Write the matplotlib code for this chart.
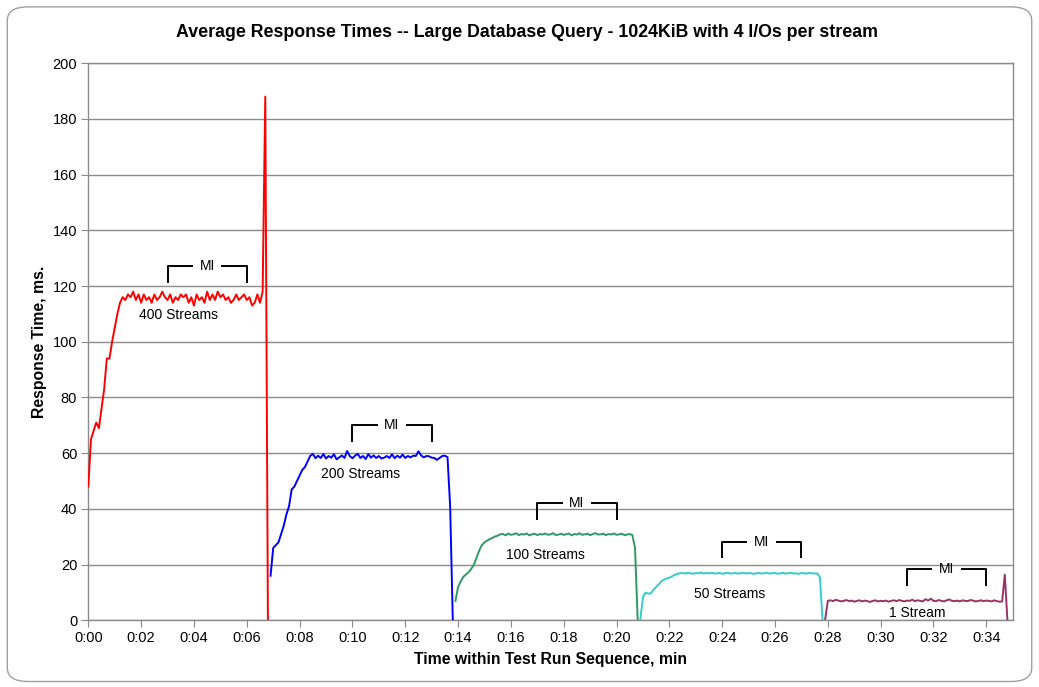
import numpy as np
import matplotlib
matplotlib.use("Agg")
import matplotlib.pyplot as plt
from matplotlib.patches import FancyBboxPatch

plt.rcParams["font.family"] = ["Liberation Sans", "DejaVu Sans"]

# Sampling step of each run (minutes) and start time of each phase
STEP = 0.1
starts = [0.0, 6.9, 13.9, 20.9, 27.9]

# Response times (ms), one list per phase
red_400 = [48, 65, 68, 71, 69, 76, 83, 94, 94, 100,
           105, 110, 114, 116, 115, 117, 116, 118, 115, 117,
           114, 117, 115, 116, 114, 117, 115, 116, 118, 116,
           115, 117, 114, 116, 115, 117, 116, 117, 114, 116,
           113, 117, 115, 116, 114, 118, 115, 117, 115, 118,
           116, 117, 115, 116, 114, 115, 117, 115, 116, 117,
           115, 116, 113, 114, 117, 114, 118, 188, 0]

blue_200 = [16, 26, 27, 28, 31, 34, 38, 41, 47, 48,
            50, 52, 54, 55, 57, 59, 59.8, 58.2, 59.1, 58.3,
            59.7, 58.1, 59.0, 58.4, 59.6, 57.8, 58.5, 59.2, 58.3, 60.8,
            59.0, 58.2, 59.1, 59.8, 58.3, 59.0, 57.9, 59.7, 58.4, 59.2,
            58.3, 59.0, 58.1, 58.4, 59.0, 58.3, 59.6, 58.2, 59.1, 58.4,
            59.5, 58.3, 59.0, 58.5, 59.1, 59.0, 60.7, 59.2, 58.5, 59.0,
            58.9, 58.4, 58.3, 57.6, 58.3, 59.0, 59.1, 58.6, 41, 0]

green_100 = [7, 12, 14, 15.6, 16.5, 17.3, 18.5, 20, 22.5, 25,
             27, 28, 28.6, 29.2, 29.6, 30.1, 30.4, 30.9, 31.0,
             30.5, 31.2, 30.7, 30.9, 31.3, 30.6, 31.0, 30.8, 31.2, 30.5,
             30.9, 31.1, 30.6, 31.0, 30.8, 31.2, 30.7, 30.9, 31.3, 30.6,
             30.8, 31.1, 30.7, 30.9, 31.2, 30.5, 31.0, 30.8, 31.3, 30.7,
             30.9, 31.1, 30.6, 31.0, 31.3, 30.8, 30.9, 31.1, 30.6, 31.0,
             30.8, 31.2, 30.7, 30.9, 31.1, 30.6, 30.8, 31.0, 30.6,
             26, 0]

cyan_50 = [0.3, 8.3, 10, 9.6, 9.7, 11, 12, 13, 14, 14.6,
           15, 15.3, 15.8, 16.3, 16.7,
           16.9, 17.0, 16.8, 17.1, 16.9, 16.7, 17.0, 16.9, 17.2, 16.8,
           17.0, 16.9, 17.1, 16.8, 16.9, 17.0, 16.7, 16.9, 17.1, 16.8,
           16.9, 17.0, 16.8, 16.9, 17.1, 16.8, 17.0, 16.9, 16.7, 16.9,
           17.0, 16.8, 16.9, 17.1, 16.8, 16.9, 17.0, 16.7, 16.9, 17.0,
           16.8, 16.9, 17.1, 16.8, 16.9, 16.7, 17.0, 16.9, 16.8, 17.0,
           16.9, 16.8, 16.9,
           15.5, 0]

purple_1 = [0.5, 7.0,
            7.2, 6.9, 7.4, 7.1, 6.8, 7.0, 7.3, 6.9, 7.1, 6.7,
            7.0, 7.2, 6.8, 7.1, 6.9, 6.6, 7.0, 7.2, 6.8, 7.0,
            6.9, 7.1, 6.7, 7.0, 7.2, 6.9, 7.3, 7.0, 6.8, 7.1,
            7.0, 7.4, 6.9, 7.2, 7.0, 6.8, 7.6, 7.1, 7.8, 7.0,
            6.9, 7.3, 7.0, 6.8, 7.2, 7.5, 7.0, 6.9, 7.1, 6.8,
            7.2, 7.0, 6.9, 7.3, 7.1, 6.8, 7.0, 7.2, 6.9, 7.1,
            7.0, 6.8, 7.2, 6.9, 6.7, 6.8,
            16.4, 0]

series = [red_400, blue_200, green_100, cyan_50, purple_1]
colors = ["#ff0000", "#0000ff", "#2e9a66", "#33cccc", "#993366"]

# Stream labels and the "MI" (measurement interval) brackets
labels = ["400 Streams", "200 Streams", "100 Streams", "50 Streams", "1 Stream"]
label_x = [3.4, 10.3, 17.3, 24.3, 31.4]
label_y = [109.5, 52.5, 23.5, 9.5, 2.8]
mi_start = [3, 10, 17, 24, 31]
mi_end = [6, 13, 20, 27, 34]
mi_top = [127.2, 70.2, 42.0, 28.3, 18.5]

fig = plt.figure(figsize=(10.39, 6.87), dpi=100)
ax = fig.add_axes([0.085, 0.097, 0.8897, 0.811])

for debut, valeurs, couleur in zip(starts, series, colors):
    temps = debut + STEP * np.arange(len(valeurs))
    ax.plot(temps, valeurs, color=couleur, lw=1.4, zorder=3)

for nom, x, y in zip(labels, label_x, label_y):
    ax.text(x, y, nom, ha="center", va="center", fontsize=10, zorder=4)

for a, b, haut in zip(mi_start, mi_end, mi_top):
    bas = haut - 5.7
    milieu = (a + b) / 2
    ax.plot([a, a, milieu - 0.58], [bas, haut, haut], color="black", lw=1.4)
    ax.plot([milieu + 0.58, b, b], [haut, haut, bas], color="black", lw=1.4)
    ax.text(milieu, haut, "MI", ha="center", va="center", fontsize=10)

grille = "#8a8a8a"
ax.set_xlim(0, 35)
ax.set_ylim(0, 200)
ax.set_yticks(range(0, 201, 20))
ax.set_xticks(range(0, 35, 2))
ax.set_xticklabels(["0:%02d" % m for m in range(0, 35, 2)])
ax.yaxis.grid(True, color=grille, lw=1.0)
ax.set_axisbelow(True)
for cote in ax.spines.values():
    cote.set_color(grille)
    cote.set_linewidth(1.0)
ax.tick_params(axis="both", direction="out", length=5, color=grille,
               labelsize=10.5, pad=3)

ax.set_xlabel("Time within Test Run Sequence, min", fontsize=11.3,
              fontweight="bold", labelpad=5)
ax.set_ylabel("Response Time, ms.", fontsize=11.3, fontweight="bold",
              labelpad=4)
fig.text(0.507, 0.953,
         "Average Response Times -- Large Database Query - 1024KiB with 4 I/Os per stream",
         ha="center", va="center", fontsize=12.8, fontweight="bold")

# cadre arrondi autour de la figure
cadre = FancyBboxPatch((0.007, 0.008), 0.986, 0.982, transform=fig.transFigure,
                       boxstyle="round,pad=0,rounding_size=0.02",
                       facecolor="none", edgecolor="#a0a0a0", lw=1.0)
fig.patches.append(cadre)

fig.savefig("out.png", dpi=100)
